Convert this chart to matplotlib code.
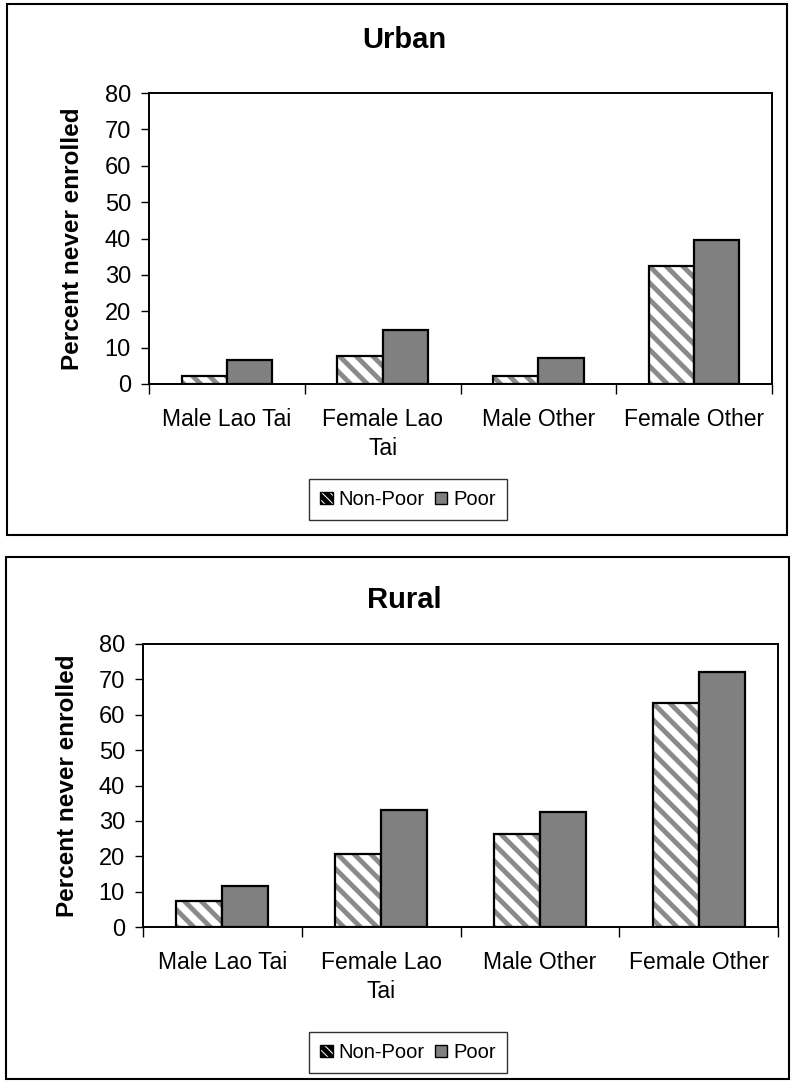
import matplotlib.pyplot as plt
import matplotlib.patches as mpatches
import numpy as np

plt.rcParams['font.family'] = ['Liberation Sans', 'DejaVu Sans']
plt.rcParams['hatch.linewidth'] = 3.5

categories = ["Male Lao Tai", "Female Lao\nTai", "Male Other", "Female Other"]
series_names = ["Non-Poor", "Poor"]
urban_nonpoor = [2.2, 7.7, 2.2, 32.4]
urban_poor = [6.6, 14.8, 7.1, 39.6]
rural_nonpoor = [7.3, 20.7, 26.4, 63.4]
rural_poor = [11.5, 33.0, 32.5, 72.0]
yticks = [0, 10, 20, 30, 40, 50, 60, 70, 80]

W, H = 791, 1082
fig = plt.figure(figsize=(W / 100, H / 100), dpi=100)


def fx(px):
    return px / W


def fy(py):
    return 1 - py / H


def panel(rect, title, title_y, nonpoor, poor, legend_top, ylab_x):
    ax = fig.add_axes(rect)
    x = np.arange(len(categories))
    w = 0.29
    # hatched bars: gray stripes, then black outline on top
    ax.bar(x - w / 2, nonpoor, w, color="white", edgecolor="#8a8a8a",
           hatch="\\\\", linewidth=0, zorder=2)
    ax.bar(x - w / 2, nonpoor, w, fill=False, edgecolor="black",
           linewidth=1.6, zorder=3)
    ax.bar(x + w / 2, poor, w, color="#808080", edgecolor="black",
           linewidth=1.6, zorder=3)

    ax.set_xlim(-0.5, len(categories) - 0.5)
    ax.set_ylim(0, 80)
    ax.set_yticks(yticks)
    ax.set_xticks(np.arange(len(categories) + 1) - 0.5)
    ax.set_xticklabels([])
    ax.set_xticks(x, minor=True)
    ax.set_xticklabels(categories, minor=True, fontsize=16.5, linespacing=1.35)
    ax.tick_params(axis="x", which="major", direction="out", length=7, width=1)
    ax.tick_params(axis="x", which="minor", length=0, pad=17)
    ax.tick_params(axis="y", direction="out", length=6, width=1, pad=7,
                   labelsize=17)
    for s in ax.spines.values():
        s.set_linewidth(1.4)
    ax.set_ylabel("Percent never enrolled", fontsize=17.5, fontweight="bold")
    ax.yaxis.set_label_coords(ylab_x, 0.5)

    fig.text(fx(404), fy(title_y), title, ha="center", va="center",
             fontsize=21, fontweight="bold")

    handles = [mpatches.Patch(facecolor="white", edgecolor="black",
                              hatch="\\\\\\\\", linewidth=1),
               mpatches.Patch(facecolor="#808080", edgecolor="black",
                              linewidth=1)]
    leg = fig.legend(handles, series_names, loc="upper center",
                     bbox_to_anchor=(fx(408), fy(legend_top)), ncol=2,
                     fontsize=14.5, frameon=True, fancybox=False,
                     handlelength=0.6, handleheight=0.6, handletextpad=0.3,
                     columnspacing=0.5, borderpad=0.55, borderaxespad=0,
                     edgecolor="black")
    leg.get_frame().set_linewidth(1.0)
    return ax


panel([fx(149), fy(384), fx(772 - 149), (384 - 93) / H], "Urban", 40,
      urban_nonpoor, urban_poor, 479, -0.105)
panel([fx(143), fy(927), fx(778 - 143), (927 - 644) / H], "Rural", 600,
      rural_nonpoor, rural_poor, 1032, -0.1)

# outer chart-area borders
for (x0, y0, x1, y1) in [(7, 4, 787, 535), (6, 557, 789, 1079)]:
    fig.add_artist(mpatches.Rectangle((fx(x0), fy(y1)), fx(x1 - x0), (y1 - y0) / H,
                                      fill=False, edgecolor="black", linewidth=1.5,
                                      transform=fig.transFigure))

fig.savefig("out.png", dpi=100)
